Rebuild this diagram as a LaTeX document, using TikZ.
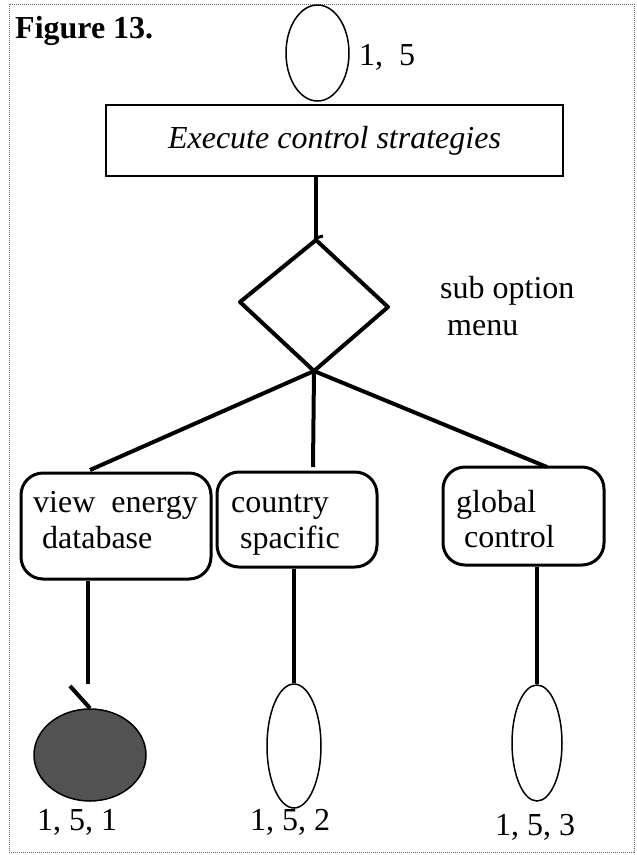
\documentclass[tikz,border=0pt]{standalone}
\usepackage{fontspec}
\setmainfont{Liberation Serif}
\usetikzlibrary{shapes.geometric}

\tikzset{
  txt/.style={anchor=base west, inner sep=0pt, font=\fontsize{32}{36}\selectfont},
  link/.style={line width=4pt},
  optbox/.style={draw, line width=3pt, rounded corners=22pt, inner sep=0pt},
  leaf/.style={draw, ellipse, line width=1.5pt, inner sep=0pt},
  frame/.style={draw=black!60, line width=1pt, densely dotted}
}

\begin{document}
\begin{tikzpicture}[x=1pt, y=-1pt]
  \useasboundingbox (0,0) rectangle (637,855);
  \fill[white] (0,0) rectangle (637,855);
  \draw[frame] (9,4) rectangle (634,852);

  % caption
  \node[txt, font=\fontsize{32}{36}\selectfont\bfseries] (cap) at (15,38) {Figure 13.};

  % top level option
  \node[leaf, minimum width=63pt, minimum height=96pt] (top) at (317.5,53) {};
  \node[txt] (toplbl) at (359,65) {1,\ \ 5};

  \node[draw, line width=1.5pt, minimum width=457pt, minimum height=71pt, inner sep=0pt,
        font=\fontsize{32}{36}\selectfont\itshape] (exec) at (334.5,140.5) {Execute control strategies};

  % sub option menu (decision)
  \coordinate (dtop) at (316,240);
  \coordinate (dleft) at (240,302);
  \coordinate (dright) at (388,307);
  \coordinate (dbot) at (314,371);
  \draw[link, line join=round] (dtop) -- (dleft) -- (dbot) -- (dright) -- cycle;
  \draw[line width=3pt] (316,238) -- (323,236);
  \node[txt] (sublbl) at (440,298) {sub option};
  \node[txt] (menulbl) at (447,335) {menu};

  \draw[link] (exec.south -| dtop) -- (dtop);

  % the three choices
  \node[optbox, minimum width=190pt, minimum height=106pt] (view) at (116,526) {};
  \node[optbox, minimum width=160pt, minimum height=95pt] (country) at (297,519.5) {};
  \node[optbox, minimum width=161pt, minimum height=98pt] (global) at (523.5,516) {};

  \node[txt] (v1) at (33,512) {view\ \ energy};
  \node[txt] (v2) at (42,548) {database};
  \node[txt] (c1) at (231,512) {country};
  \node[txt] (c2) at (240,548) {spacific};
  \node[txt] (g1) at (456,512) {global};
  \node[txt] (g2) at (464,547) {control};

  \coordinate (vtop) at (90,470);
  \coordinate (ctop) at (313,467);
  \coordinate (gtop) at (547,467);
  \draw[link] (dbot) -- (vtop);
  \draw[link] (dbot) -- (ctop);
  \draw[link] (dbot) -- (gtop);

  % leaves
  \node[draw, ellipse, fill=black!68, line width=1.5pt, minimum width=112pt, minimum height=92pt,
        inner sep=0pt] (leafA) at (90,755) {};
  \node[leaf, minimum width=54pt, minimum height=124pt] (leafB) at (294,746) {};
  \node[leaf, minimum width=50pt, minimum height=116pt] (leafC) at (537,743) {};

  \coordinate (vend) at (88,684);
  \coordinate (tick) at (70,686);
  \draw[link] (view.south -| vend) -- (vend);
  \draw[link] (tick) -- (leafA.north);
  \draw[link] (country.south -| leafB.north) -- (leafB.north);
  \draw[link] (global.south -| leafC.north) -- (leafC.north);

  \node[txt] (la) at (37,830) {1, 5, 1};
  \node[txt] (lb) at (250,830) {1, 5, 2};
  \node[txt] (lc) at (495,835) {1, 5, 3};
\end{tikzpicture}
\end{document}
